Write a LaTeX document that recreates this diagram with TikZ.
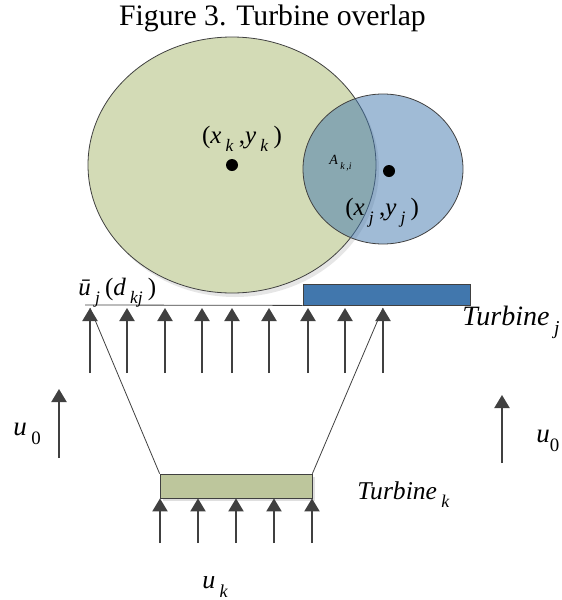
\documentclass[tikz,border=0pt]{standalone}
\usepackage{fontspec}
\setmainfont{Liberation Serif}
\usepackage{tikz}
\usetikzlibrary{arrows.meta,positioning,shadows}
\definecolor{greenx}{HTML}{D3DBB6}
\definecolor{greenk}{HTML}{BDC69C}
\definecolor{bluex}{HTML}{4177AD}
\definecolor{edgex}{HTML}{404040}
\newcommand\lsub[1]{\raisebox{-0.4ex}{\,\textsubscript{#1}}}
\tikzset{
  wind/.style={-{Triangle[width=7.5pt,length=6.5pt]},line width=1pt,edgex},
  rotor/.style={draw=edgex,line width=0.4pt,inner sep=0pt},
  rim/.style={draw=edgex,line width=0.4pt},
  lbl/.style={inner sep=0pt,anchor=base west}
}
\begin{document}
\begin{tikzpicture}[x=0.5pt,y=-0.5pt]
\useasboundingbox (0,0) rectangle (562,600);
\node[font=\fontsize{14.85}{17}\selectfont,anchor=base,inner sep=0pt] (title) at (272.5,25) {Figure 3. Turbine overlap};
% wake areas
\fill[gray,opacity=0.2] (235,169) ellipse [x radius=144,y radius=128];
\filldraw[rim,fill=greenx] (232,165) ellipse [x radius=144,y radius=128];
\filldraw[rim,fill=bluex,fill opacity=0.5] (383,169) ellipse [x radius=80,y radius=75];
\node[circle,fill=black,inner sep=0pt,minimum size=6pt] (ck) at (232,165) {};
\node[circle,fill=black,inner sep=0pt,minimum size=6pt] (cj) at (389,171) {};
\node[lbl,font=\fontsize{12.5}{14}\selectfont,anchor=base] (xk) at (242,143) {(\textit{x}\lsub{\textit{k}}\,,\textit{y}\lsub{\textit{k}}\,)};
\node[lbl,font=\fontsize{12.5}{14}\selectfont] (xj) at (345,215) {(\textit{x}\lsub{\textit{j}}\,,\textit{y}\lsub{\textit{j}}\,)};
\node[font=\fontsize{7}{8}\selectfont\itshape,inner sep=0pt] (akj) at (341,163) {A\lsub{k\,,i}};
% turbine j
\node[rotor,fill=bluex,minimum width=83.5pt,minimum height=10.5pt] (tj) at (386.5,294.5) {};
\coordinate (wl) at (85,305);
\draw[rim] (wl) -- (tj.south west);
\foreach \x [count=\i] in {90,127,165,202,232,269,308,345,383}{
  \coordinate (b\i) at (\x,373);
  \coordinate (t\i) at (\x,308);
  \draw[wind] (b\i) -- (t\i);
}
\node[lbl,font=\fontsize{12.5}{14}\selectfont] (ubar) at (78,295) {\textit{\=u}\lsub{\textit{j}}\,(\textit{d}\lsub{\textit{kj}}\,)};
\node[lbl,font=\fontsize{14}{16}\selectfont\itshape] (lj) at (462,325) {Turbine\lsub{j}};
% turbine k
\node[rotor,fill=greenk,minimum width=76pt,minimum height=12pt,
  drop shadow={shadow xshift=1.5pt,shadow yshift=-1.5pt,opacity=0.25}] (tk) at (236,486) {};
\draw[rim] (t1) -- (tk.north west);
\draw[rim] (t9) -- (tk.north east);
\foreach \x [count=\i] in {160,198,236,274,312}{
  \coordinate (k\i) at (\x,543);
  \draw[wind] (k\i) -- (k\i |- tk.south);
}
\node[lbl,font=\fontsize{12.8}{15}\selectfont\itshape] (lk) at (357,499) {Turbine\lsub{k}};
\node[lbl,font=\fontsize{13}{15}\selectfont\itshape] (uk) at (202,588) {u\lsub{k}};
% free stream
\coordinate (fl) at (59,458);
\coordinate (fla) at (59,389);
\draw[wind] (fl) -- (fla);
\coordinate (fr) at (502,463);
\coordinate (fra) at (502,395);
\draw[wind] (fr) -- (fra);
\node[lbl,font=\fontsize{13.5}{15}\selectfont\itshape] (u0l) at (13,435) {u\lsub{\textup{0}}};
\node[lbl,font=\fontsize{13.5}{15}\selectfont\itshape] (u0r) at (536,442) {u\raisebox{-0.4ex}{\textsubscript{\textup{0}}}};
\end{tikzpicture}
\end{document}
